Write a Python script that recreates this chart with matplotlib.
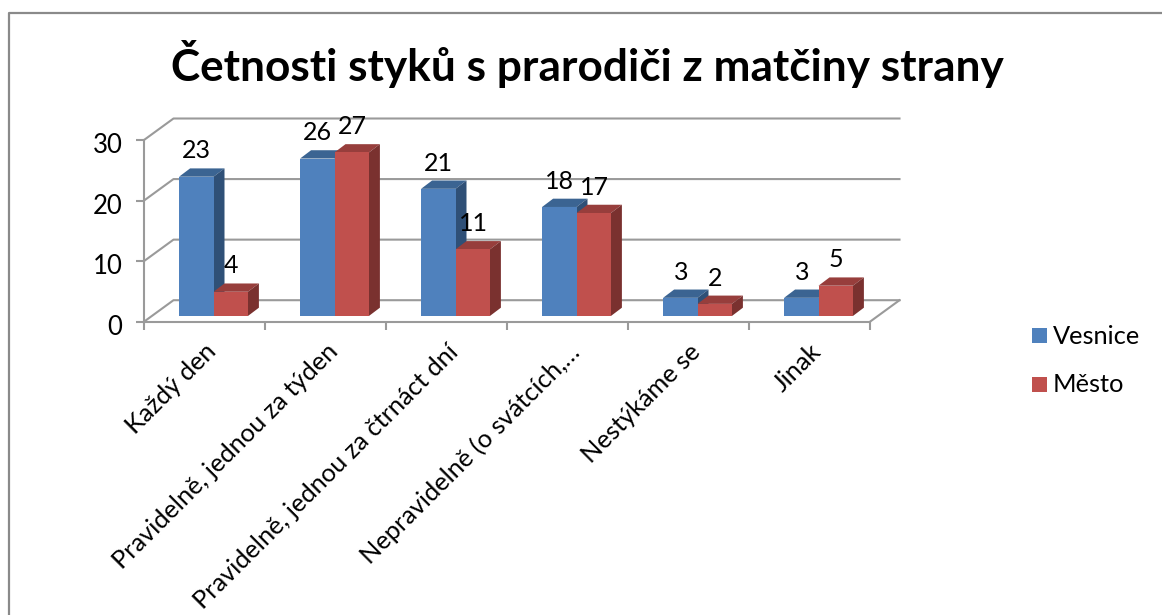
import matplotlib
matplotlib.use("Agg")
import matplotlib.pyplot as plt
from matplotlib.lines import Line2D
from matplotlib.patches import Rectangle
from matplotlib.ticker import NullFormatter
from matplotlib.transforms import ScaledTranslation

plt.rcParams['font.family'] = ['Lato', 'DejaVu Sans']

title = "Četnosti styků s prarodiči z matčiny strany"
categories = ["Každý den", "Pravidelně, jednou za týden", "Pravidelně, jednou za čtrnáct dní",
              "Nepravidelně (o svátcích,…", "Nestýkáme se", "Jinak"]
series_names = ["Vesnice", "Město"]
vesnice = [23, 26, 21, 18, 3, 3]
mesto = [4, 27, 11, 17, 2, 5]
yticks = [0, 10, 20, 30]

W, H = 1162, 615
fig = plt.figure(figsize=(W / 100, H / 100), dpi=100, facecolor="white")

def box(x0, y0, x1, y1):
    return [x0 / W, 1 - y1 / H, (x1 - x0) / W, (y1 - y0) / H]

# frame: only the top and left edges fall inside the picture
fig.add_artist(Line2D([9 / W, 9 / W, 1], [0, 1 - 13 / H, 1 - 13 / H], transform=fig.transFigure,
                      color="#8a8a8a", lw=1.6))

# front plane of the plot: x 144-870 px, y 321.7-140 px
ax = fig.add_axes(box(144, 140, 870, 321.7))
ax.set_xlim(0, 6)
ax.set_ylim(0, 30)
ax.patch.set_alpha(0)
px = 6 / 726
py = 30 / 181.7

GRID = "#9a9a9a"
LW = 1.5
back_dx, back_dy = 29.5 * px, 21.5 * py
for v in yticks:
    ax.plot([0, back_dx, 6 + back_dx], [v, v + back_dy, v + back_dy], color=GRID, lw=LW, clip_on=False, zorder=1)
ax.plot([6, 6 + back_dx], [0, back_dy], color=GRID, lw=LW, clip_on=False, zorder=1)
for s in ("top", "right"):
    ax.spines[s].set_visible(False)
for s in ("left", "bottom"):
    ax.spines[s].set_color(GRID)
    ax.spines[s].set_linewidth(LW)

ax.set_yticks(yticks)
ax.tick_params(axis="y", length=5.5, width=LW, color=GRID, labelsize=18.5, pad=10, labelcolor="black")
nudge = ScaledTranslation(0, -3 / 100, fig.dpi_scale_trans)
for lab in ax.get_yticklabels():
    lab.set_transform(lab.get_transform() + nudge)
ax.set_xticks(range(7))
ax.xaxis.set_major_formatter(NullFormatter())
ax.tick_params(axis="x", which="major", length=5.5, width=LW, color=GRID)
ax.set_xticks([i + 0.5 for i in range(6)], minor=True)
ax.set_xticklabels(categories, minor=True, rotation=45, ha="right", va="top",
                   rotation_mode="anchor", fontsize=18.3)
ax.tick_params(axis="x", which="minor", length=0, pad=13)

# bars
bar_w = 34.4 * px
depth_x, depth_y = 11 * px, 8.3 * py
base = 5.7 * py
shift = 9 * px
colors = [("#4f81bd", "#3b6492", "#2f5077"), ("#c0504d", "#973e3c", "#7a312f")]


def bar3d(left, value, cols):
    front, top, side = cols
    bottom = base
    ax.bar(left, value, bar_w, bottom=bottom, align="edge", color=front, lw=0, clip_on=False, zorder=3)
    t = bottom + value
    r = left + bar_w
    ax.fill([left, left + depth_x, r + depth_x, r], [t, t + depth_y, t + depth_y, t],
            color=top, lw=0, clip_on=False, zorder=2.5)
    ax.fill([r, r + depth_x, r + depth_x, r], [bottom, bottom + depth_y, t + depth_y, t],
            color=side, lw=0, clip_on=False, zorder=2.5)


label_dx = 0.5 * depth_x - 5 * px
label_dy = depth_y + 6 * py
for i in range(6):
    centre = i + 0.5 + shift
    bar3d(centre - bar_w, vesnice[i], colors[0])
    bar3d(centre, mesto[i], colors[1])
    ax.text(centre - bar_w / 2 + label_dx, base + vesnice[i] + label_dy,
            str(vesnice[i]), ha="center", va="bottom", fontsize=18, clip_on=False, zorder=5)
    ax.text(centre + bar_w / 2 + label_dx, base + mesto[i] + label_dy,
            str(mesto[i]), ha="center", va="bottom", fontsize=18, clip_on=False, zorder=5)

fig.text(587 / W, 1 - 64.5 / H, title, ha="center", va="center", fontsize=31.8, fontweight="bold")

# legend
for name, cols, y in zip(series_names, colors, (335, 384)):
    fig.add_artist(Rectangle((1032 / W, 1 - (y + 7.5) / H), 15 / W, 15 / H, transform=fig.transFigure,
                             fc=cols[0], ec="none"))
    fig.text(1053 / W, 1 - (y + 1) / H, name, ha="left", va="center", fontsize=18.3)

fig.savefig("out.png", dpi=100, facecolor="white")
